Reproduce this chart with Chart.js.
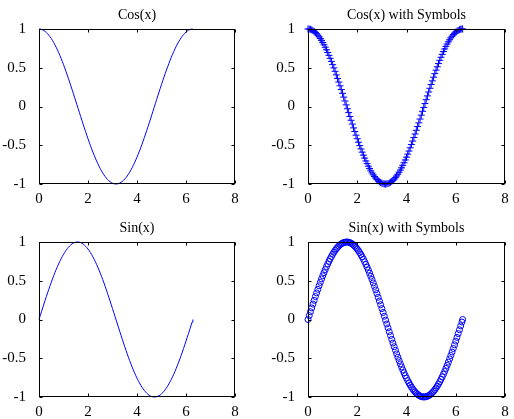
<!DOCTYPE html>
<html>
<head>
<meta charset="utf-8">
<script src="https://cdn.jsdelivr.net/npm/chart.js@4/dist/chart.umd.min.js"></script>
<style>
  body { margin: 0; background: #fff; width: 514px; height: 419px; position: relative; overflow: hidden; }
  canvas { position: absolute; }
</style>
</head>
<body>
<canvas id="c1" width="250" height="209" style="left:0;top:0"></canvas>
<canvas id="c2" width="244" height="209" style="left:270px;top:0"></canvas>
<canvas id="c3" width="250" height="206" style="left:0;top:213px"></canvas>
<canvas id="c4" width="244" height="206" style="left:270px;top:213px"></canvas>
<script>
// sample positions (0 .. 2pi)
const xVals = [0,0.05,0.1,0.15,0.2,0.25,0.3,0.35,0.4,0.45,0.5,0.55,0.6,0.65,0.7,0.75,0.8,0.85,0.9,0.95,
  1,1.05,1.1,1.15,1.2,1.25,1.3,1.35,1.4,1.45,1.5,1.55,1.6,1.65,1.7,1.75,1.8,1.85,1.9,1.95,
  2,2.05,2.1,2.15,2.2,2.25,2.3,2.35,2.4,2.45,2.5,2.55,2.6,2.65,2.7,2.75,2.8,2.85,2.9,2.95,
  3,3.05,3.1,3.15,3.2,3.25,3.3,3.35,3.4,3.45,3.5,3.55,3.6,3.65,3.7,3.75,3.8,3.85,3.9,3.95,
  4,4.05,4.1,4.15,4.2,4.25,4.3,4.35,4.4,4.45,4.5,4.55,4.6,4.65,4.7,4.75,4.8,4.85,4.9,4.95,
  5,5.05,5.1,5.15,5.2,5.25,5.3,5.35,5.4,5.45,5.5,5.55,5.6,5.65,5.7,5.75,5.8,5.85,5.9,5.95,
  6,6.05,6.1,6.15,6.2,6.25,6.28];

const cosVals = [1,0.999,0.995,0.989,0.98,0.969,0.955,0.939,0.921,0.9,0.878,0.853,0.825,0.796,0.765,0.732,0.697,0.66,0.622,0.582,
  0.54,0.498,0.454,0.408,0.362,0.315,0.267,0.219,0.17,0.121,0.071,0.021,-0.029,-0.079,-0.129,-0.178,-0.227,-0.276,-0.323,-0.37,
  -0.416,-0.461,-0.505,-0.547,-0.589,-0.628,-0.666,-0.703,-0.737,-0.77,-0.801,-0.83,-0.857,-0.882,-0.904,-0.924,-0.942,-0.958,-0.971,-0.982,
  -0.99,-0.996,-0.999,-1,-0.998,-0.994,-0.987,-0.978,-0.967,-0.953,-0.936,-0.918,-0.897,-0.874,-0.848,-0.82,-0.791,-0.759,-0.726,-0.69,
  -0.654,-0.615,-0.575,-0.533,-0.49,-0.446,-0.401,-0.355,-0.307,-0.259,-0.211,-0.162,-0.112,-0.062,-0.012,0.038,0.088,0.137,0.187,0.235,
  0.284,0.331,0.378,0.424,0.469,0.512,0.554,0.596,0.635,0.672,0.709,0.743,0.776,0.806,0.835,0.861,0.886,0.908,0.927,0.945,
  0.96,0.973,0.983,0.991,0.997,0.999,1];

const sinVals = [0,0.05,0.1,0.149,0.199,0.247,0.296,0.343,0.389,0.435,0.479,0.523,0.565,0.605,0.644,0.682,0.717,0.751,0.783,0.813,
  0.841,0.867,0.891,0.913,0.932,0.949,0.964,0.976,0.985,0.993,0.997,1,1,0.997,0.992,0.984,0.974,0.961,0.946,0.929,
  0.909,0.887,0.863,0.837,0.808,0.778,0.746,0.711,0.675,0.638,0.598,0.558,0.516,0.472,0.427,0.382,0.335,0.287,0.239,0.19,
  0.141,0.091,0.042,-0.008,-0.058,-0.108,-0.158,-0.207,-0.256,-0.304,-0.351,-0.397,-0.443,-0.487,-0.53,-0.572,-0.612,-0.651,-0.688,-0.724,
  -0.757,-0.789,-0.818,-0.846,-0.872,-0.895,-0.916,-0.935,-0.952,-0.966,-0.978,-0.987,-0.994,-0.998,-1,-0.999,-0.996,-0.991,-0.982,-0.972,
  -0.959,-0.944,-0.926,-0.906,-0.883,-0.859,-0.832,-0.803,-0.773,-0.74,-0.706,-0.67,-0.631,-0.592,-0.551,-0.508,-0.465,-0.42,-0.374,-0.327,
  -0.279,-0.231,-0.182,-0.133,-0.083,-0.033,0];

const xTicks = [0, 2, 4, 6, 8];
const yTicks = [-1, -0.5, 0, 0.5, 1];
const titles = ['Cos(x)', 'Cos(x) with Symbols', 'Sin(x)', 'Sin(x) with Symbols'];

const FONT = '"Liberation Serif", "Times New Roman", serif';

// MATLAB style box, inward ticks and title
const axesBox = {
  id: 'axesBox',
  afterDraw(chart) {
    const { ctx, chartArea: a, scales } = chart;
    const l = Math.round(a.left) + 0.5, r = Math.round(a.right) - 0.5;
    const t = Math.round(a.top) + 0.5, b = Math.round(a.bottom) - 0.5;
    ctx.save();
    ctx.strokeStyle = '#000';
    ctx.lineWidth = 1;
    ctx.beginPath();
    xTicks.forEach(v => {
      const px = Math.round(scales.x.getPixelForValue(v)) + 0.5;
      ctx.moveTo(px, b); ctx.lineTo(px, b - 3);
      ctx.moveTo(px, t); ctx.lineTo(px, t + 3);
    });
    yTicks.forEach(v => {
      const py = Math.round(scales.y.getPixelForValue(v)) + 0.5;
      ctx.moveTo(l, py); ctx.lineTo(l + 3, py);
      ctx.moveTo(r, py); ctx.lineTo(r - 3, py);
    });
    ctx.stroke();
    ctx.strokeRect(l, t, r - l, b - t);
    ctx.fillStyle = '#000';
    ctx.font = '14px ' + FONT;
    ctx.textAlign = 'center';
    ctx.textBaseline = 'middle';
    ctx.fillText(chart.options.plugins.axesBox.title, (a.left + a.right) / 2, a.top - 14);
    ctx.restore();
  }
};

function makeChart(id, title, yData, kind, yWidth, xHeight, padRight) {
  const points = xVals.map((x, i) => ({ x: x, y: yData[i] }));
  const ds = {
    data: points,
    borderColor: '#0000ff',
    borderWidth: 1,
    clip: false
  };
  if (kind === 'line') {
    Object.assign(ds, { pointRadius: 0, tension: 0, showLine: true });
  } else {
    Object.assign(ds, {
      showLine: false,
      pointStyle: kind,
      pointRadius: kind === 'cross' ? 3.5 : 3,
      pointBorderWidth: 1,
      pointBorderColor: '#0000ff',
      pointBackgroundColor: 'rgba(0,0,0,0)'
    });
  }
  new Chart(document.getElementById(id), {
    type: 'scatter',
    data: { datasets: [ds] },
    options: {
      responsive: false,
      animation: false,
      devicePixelRatio: 1,
      layout: { padding: { top: 29, right: padRight, left: 0, bottom: 0 } },
      plugins: { legend: { display: false }, tooltip: { enabled: false }, axesBox: { title: title } },
      scales: {
        x: {
          type: 'linear', min: 0, max: 8,
          grid: { display: false }, border: { display: false },
          afterBuildTicks: s => { s.ticks = xTicks.map(v => ({ value: v })); },
          afterFit: s => { s.height = xHeight; },
          ticks: { color: '#000', padding: -2, maxRotation: 0, font: { family: FONT, size: 15 },
                   callback: v => String(v) }
        },
        y: {
          type: 'linear', min: -1, max: 1,
          grid: { display: false }, border: { display: false },
          afterBuildTicks: s => { s.ticks = yTicks.map(v => ({ value: v })); },
          afterFit: s => { s.width = yWidth; },
          ticks: { color: '#000', padding: 5, font: { family: FONT, size: 15 },
                   callback: v => String(v) }
        }
      }
    },
    plugins: [axesBox]
  });
}

makeChart('c1', titles[0], cosVals, 'line', 39, 25, 15);
makeChart('c2', titles[1], cosVals, 'cross', 38, 25, 9);
makeChart('c3', titles[2], sinVals, 'line', 39, 22, 15);
makeChart('c4', titles[3], sinVals, 'circle', 38, 22, 9);
</script>
</body>
</html>
